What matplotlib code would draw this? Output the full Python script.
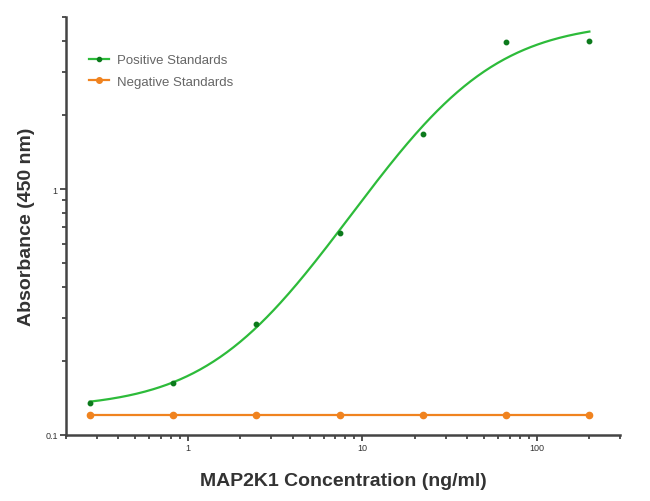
import numpy as np
import matplotlib.pyplot as plt
from matplotlib.ticker import LogLocator, FixedLocator, FixedFormatter, NullFormatter

plt.rcParams["font.family"] = ["Liberation Sans", "DejaVu Sans"]

# 3-fold dilution series (ng/ml)
conc = [0.274, 0.823, 2.47, 7.41, 22.2, 66.7, 200.0]
positive = [0.135, 0.162, 0.283, 0.662, 1.67, 3.95, 4.0]
negative = [0.121, 0.121, 0.121, 0.121, 0.121, 0.121, 0.121]

# 4PL standard curve parameters (bottom, top, EC50, hill)
fit_bottom = 0.128
fit_top = 4.8
fit_ec50 = 34.7
fit_hill = 1.30

green_line = "#2dbb3a"
green_dot = "#0c7a1c"
orange = "#f0831f"
axis_gray = "#444444"

fig = plt.figure(figsize=(6.5, 5.02), dpi=100)
ax = fig.add_axes([0.1015, 0.1315, 0.8525, 0.8325])

xs = np.logspace(np.log10(conc[0]), np.log10(conc[-1]), 300)
curve = fit_top + (fit_bottom - fit_top) / (1 + (xs / fit_ec50) ** fit_hill)
ax.plot(xs, curve, color=green_line, lw=1.6, zorder=2)
ax.plot(conc, positive, "o", color=green_dot, ms=3.2, zorder=3)
ax.plot(conc, negative, "-o", color=orange, lw=1.6, ms=4.5, zorder=2)

# legend proxies
ax.plot([], [], "-", marker="o", color=green_line, mfc=green_dot, mec=green_dot,
        ms=3, lw=1.6, label="Positive Standards")
ax.plot([], [], "-o", color=orange, ms=4, lw=1.6, label="Negative Standards")

ax.set_xscale("log")
ax.set_yscale("log")
ax.set_xlim(0.2, 300)
ax.set_ylim(0.1, 5)

ax.spines["top"].set_visible(False)
ax.spines["right"].set_visible(False)
for s in ("left", "bottom"):
    ax.spines[s].set_color(axis_gray)
    ax.spines[s].set_linewidth(1.8)

ax.xaxis.set_major_locator(FixedLocator([1, 10, 100]))
ax.xaxis.set_major_formatter(FixedFormatter(["1", "10", "100"]))
ax.xaxis.set_minor_locator(LogLocator(base=10, subs=np.arange(2, 10)))
ax.xaxis.set_minor_formatter(NullFormatter())
ax.yaxis.set_major_locator(FixedLocator([0.1, 1]))
ax.yaxis.set_major_formatter(FixedFormatter(["0.1", "1"]))
ax.yaxis.set_minor_locator(LogLocator(base=10, subs=np.arange(2, 10)))
ax.yaxis.set_minor_formatter(NullFormatter())

ax.tick_params(which="both", direction="out", color=axis_gray, width=1.3,
               labelsize=6.5, labelcolor="#333333", pad=2)
ax.tick_params(which="major", length=4)
ax.tick_params(which="minor", length=3)

ax.set_xlabel("MAP2K1 Concentration (ng/ml)", fontsize=14, fontweight="bold",
              color="#333333", labelpad=14)
ax.set_ylabel("Absorbance (450 nm)", fontsize=14, fontweight="bold",
              color="#333333", labelpad=7)

ax.legend(loc="upper left", bbox_to_anchor=(0.02, 0.94), frameon=False,
          fontsize=9.5, labelcolor="#666666", handlelength=1.5, handletextpad=0.6,
          labelspacing=0.7)

fig.savefig("out.png", dpi=100)
